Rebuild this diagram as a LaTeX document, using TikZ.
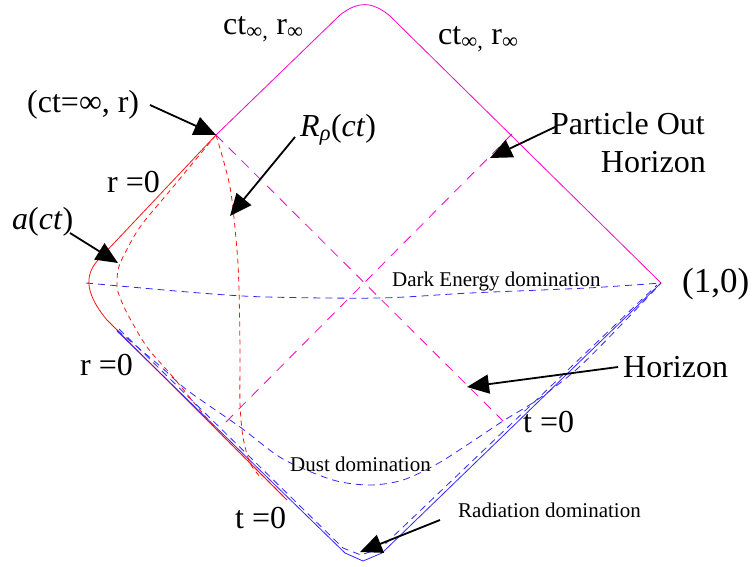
\documentclass[tikz,border=0pt]{standalone}
\usepackage{fontspec}
\setmainfont{Liberation Serif}
\usetikzlibrary{arrows.meta}
\definecolor{mag}{RGB}{255,0,200}
\definecolor{rd}{RGB}{255,20,20}
\definecolor{bl}{RGB}{50,40,255}
\begin{document}
\begin{tikzpicture}[x=1pt,y=-1pt,
  big/.style={font=\fontsize{32}{37}\selectfont, inner sep=0pt},
  huge/.style={font=\fontsize{35}{40}\selectfont, inner sep=0pt},
  small/.style={font=\fontsize{21}{24}\selectfont, inner sep=0pt},
  arr/.style={-{Triangle[length=22pt,width=19pt]}, line width=1.8pt, black},
  edgeline/.style={line width=0.8pt},
  rdash/.style={rd, line width=0.8pt, dash pattern=on 5pt off 4pt},
  mdash/.style={mag, line width=0.8pt, dash pattern=on 10pt off 8pt},
  bdash/.style={bl, line width=0.8pt, dash pattern=on 7pt off 5pt}]
\useasboundingbox (0,0) rectangle (755,567);
\fill[white] (0,0) rectangle (755,567);

% key points
\coordinate (inf) at (216,135);
\coordinate (top) at (365,6);
\coordinate (right) at (661,283);
\coordinate (bottom) at (363,561);
\coordinate (left) at (86,283);

% outer boundary
\draw[edgeline, mag] (inf) -- (340,15) .. controls (358,1) and (372,1) .. (390,16) -- (right);
\draw[edgeline, rd] (inf) -- (100,258) .. controls (86,272) and (82,290) .. (107,320) -- (287,500);
\draw[edgeline, bl] (117,331) -- (345,553) -- (bottom) -- (382,553) -- (right);

% radiation domination (hugging the lower edges)
\draw[bdash] (119,329) -- (343,548) -- (361,555) -- (381,548) -- (657,285);
% dust domination
\draw[bdash] plot[smooth] coordinates {(117,330) (160,366) (187,390) (240,427) (283,459) (333,480) (370,485) (403,480) (437,464) (470,443) (503,421) (537,400) (577,369) (623,323) (661,283)};
% dark energy domination
\draw[bdash] plot[smooth] coordinates {(left) (200,293) (267,297) (380,298) (470,293) (587,288) (right)};

% a(ct)
\draw[rdash] plot[smooth] coordinates {(inf) (173,187) (140,227) (123,257) (118,270) (117,283) (118,292) (127,313) (147,347) (173,377) (200,410) (220,433) (247,460) (286,499)};
% R_rho(ct)
\draw[rdash] plot[smooth] coordinates {(inf) (230,187) (237,250) (239,290) (240,350) (240,403) (243,437) (250,463) (262,479)};

% horizons
\coordinate (hend) at (503,421);
\coordinate (pstart) at (226,422);
\coordinate (pend) at (512,134);
\draw[mdash] (inf) -- (hend);
\draw[mdash] (pstart) -- (pend);

% labels
\node[big, anchor=base west] (cti1) at (223,35) {ct\textsubscript{∞,} r\textsubscript{∞}};
\node[big, anchor=base west] (cti2) at (438,45) {ct\textsubscript{∞,} r\textsubscript{∞}};
\node[big, anchor=base west] (ctr) at (27,113) {(ct=∞, r)};
\node[big, anchor=base west] (rrho) at (300,137) {\textit{R}\textsubscript{\textit{ρ}}(\textit{ct})};
\node[big, anchor=base east] (pout1) at (705,135) {Particle Out};
\node[big, anchor=base east] (pout2) at (706,172) {Horizon};
\node[big, anchor=base west] (r0a) at (107,193) {r =0};
\node[big, anchor=base west] (act) at (12,229) {\textit{a}(\textit{ct})};
\node[huge, anchor=base west] (one) at (682,292) {(1,0)};
\node[small, anchor=base west] (de) at (392,286) {Dark Energy domination};
\node[big, anchor=base west] (r0b) at (80,375) {r =0};
\node[big, anchor=base west] (hor) at (623,377) {Horizon};
\node[big, anchor=base west] (t0a) at (523,432) {t =0};
\node[small, anchor=base west] (dust) at (290,471) {Dust domination};
\node[big, anchor=base west] (t0b) at (235,528) {t =0};
\node[small, anchor=base west] (rad) at (458,517) {Radiation domination};

% arrows
\coordinate (ctrT) at (150,105);
\coordinate (rrhoT) at (295,137);
\coordinate (rrhoH) at (230,216);
\coordinate (poutT) at (555,127);
\coordinate (poutH) at (490,158);
\coordinate (actT) at (70,233);
\coordinate (actH) at (118,263);
\coordinate (horT) at (618,367);
\coordinate (horH) at (467,387);
\coordinate (radT) at (440,520);
\coordinate (radH) at (360,552);
\draw[arr] (ctrT) -- (inf);
\draw[arr] (rrhoT) -- (rrhoH);
\draw[arr] (poutT) -- (poutH);
\draw[arr] (actT) -- (actH);
\draw[arr] (horT) -- (horH);
\draw[arr] (radT) -- (radH);
\end{tikzpicture}
\end{document}
